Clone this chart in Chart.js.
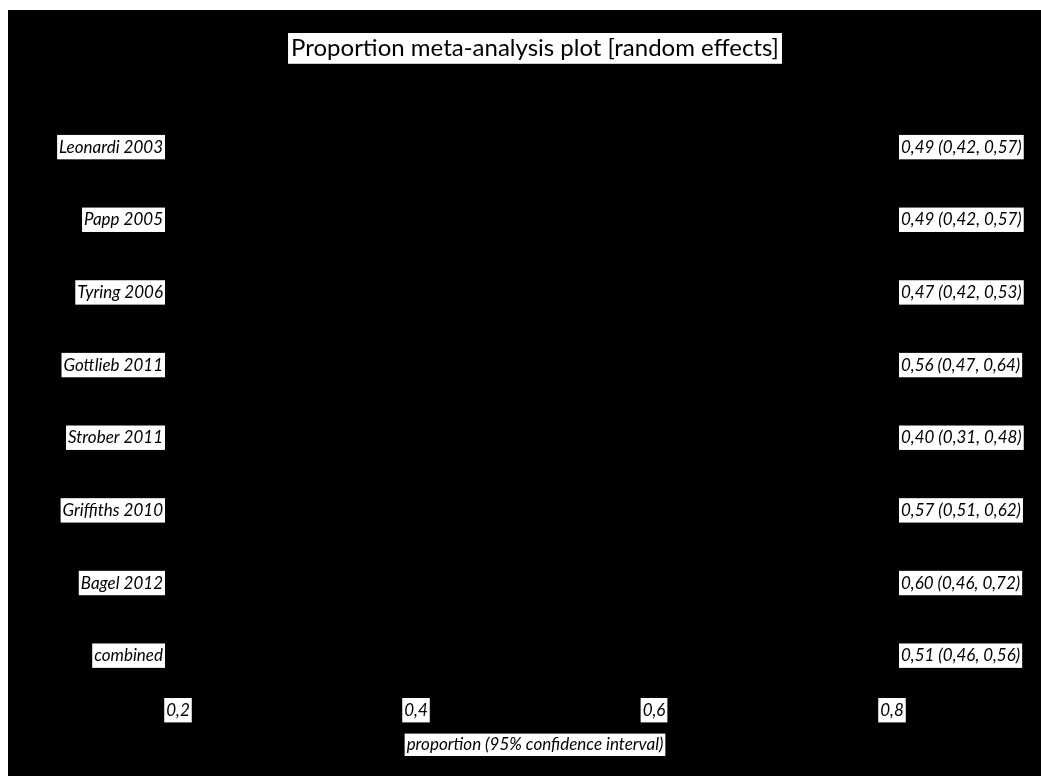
<!DOCTYPE html>
<html>
<head>
<meta charset="utf-8">
<script src="https://cdn.jsdelivr.net/npm/chart.js@4/dist/chart.umd.min.js"></script>
<style>
  html, body { margin: 0; padding: 0; background: #ffffff; }
  #wrap { position: absolute; left: 8px; top: 10px; width: 1033px; height: 766px; background: #000000; }
</style>
</head>
<body>
<div id="wrap"><canvas id="graph" width="1033" height="766"></canvas></div>
<script>
// study data
var studies = ["Leonardi 2003", "Papp 2005", "Tyring 2006", "Gottlieb 2011", "Strober 2011", "Griffiths 2010", "Bagel 2012", "combined"];
var proportion = [0.49, 0.49, 0.47, 0.56, 0.40, 0.57, 0.60, 0.51];
var lower = [0.42, 0.42, 0.42, 0.47, 0.31, 0.51, 0.46, 0.46];
var upper = [0.57, 0.57, 0.53, 0.64, 0.48, 0.62, 0.72, 0.56];
var tickValues = [0.2, 0.4, 0.6, 0.8];
var tickLabels = ["0,2", "0,4", "0,6", "0,8"];

function fmt(v) {
  return v.toFixed(2).replace(".", ",");
}

var ciLabels = [];
for (var i = 0; i < studies.length; i++) {
  ciLabels.push(fmt(proportion[i]) + " (" + fmt(lower[i]) + ", " + fmt(upper[i]) + ")");
}

var ranges = [];
var points = [];
for (var j = 0; j < studies.length; j++) {
  ranges.push([lower[j], upper[j]]);
  points.push({ x: proportion[j], y: studies[j] });
}

var labelFont = { family: "Lato", size: 17, style: "italic" };

// black background plus white boxes behind title and axis title
var boxes = {
  id: "boxes",
  beforeDraw: function(chart) {
    var ctx = chart.ctx;
    ctx.save();
    ctx.fillStyle = "#000000";
    ctx.fillRect(0, 0, chart.width, chart.height);
    ctx.fillStyle = "#ffffff";

    var t = chart.titleBlock;
    var tOpts = chart.options.plugins.title;
    var tFont = Chart.helpers.toFont(tOpts.font);
    ctx.font = tFont.string;
    var tw = ctx.measureText(tOpts.text).width;
    var tPad = Chart.helpers.toPadding(tOpts.padding);
    var tcx = (t.left + t.right) / 2;
    var tcy = t.top + tPad.top + tFont.lineHeight / 2;
    ctx.fillRect(tcx - tw / 2 - 3, tcy - tFont.lineHeight / 2 - 1, tw + 6, tFont.lineHeight + 2);

    var xs = chart.scales.x;
    var xt = xs.options.title;
    var xFont = Chart.helpers.toFont(xt.font);
    ctx.font = xFont.string;
    var xw = ctx.measureText(xt.text).width;
    var xPad = Chart.helpers.toPadding(xt.padding);
    var xcy = xs.bottom - xFont.lineHeight / 2 - xPad.bottom;
    var xcx = (xs.left + xs.right) / 2;
    ctx.fillRect(xcx - xw / 2 - 2, xcy - xFont.lineHeight / 2 - 1, xw + 4, xFont.lineHeight + 2);
    ctx.restore();
  }
};

var graph = document.getElementById("graph");
var myChart = new Chart(graph, {
  type: "bar",
  data: {
    labels: studies,
    datasets: [{
      label: "95% CI",
      data: ranges,
      backgroundColor: "#000000",
      borderWidth: 0,
      barThickness: 2
    }, {
      type: "line",
      label: "proportion",
      data: points,
      showLine: false,
      pointRadius: 5,
      pointStyle: "rect",
      pointBackgroundColor: "#000000",
      pointBorderColor: "#000000"
    }]
  },
  options: {
    indexAxis: "y",
    responsive: false,
    animation: false,
    layout: { padding: 0 },
    plugins: {
      legend: { display: false },
      tooltip: { enabled: false },
      title: {
        display: true,
        fullSize: false,
        text: "Proportion meta-analysis plot [random effects]",
        color: "#000000",
        font: { family: "Lato", size: 24, weight: "normal" },
        padding: { top: 24, bottom: 48 }
      }
    },
    scales: {
      x: {
        type: "linear",
        min: 0.2,
        max: 0.8,
        afterBuildTicks: function(scale) {
          scale.ticks = tickValues.map(function(v) { return { value: v }; });
        },
        afterFit: function(scale) { scale.height = 84; },
        grid: { display: false, drawTicks: false },
        border: { display: false },
        ticks: {
          color: "#000000",
          font: labelFont,
          padding: 8,
          maxRotation: 0,
          showLabelBackdrop: true,
          backdropColor: "#ffffff",
          backdropPadding: 2,
          callback: function(value, index) { return tickLabels[index]; }
        },
        title: {
          display: true,
          text: "proportion (95% confidence interval)",
          color: "#000000",
          font: { family: "Lato", size: 17, style: "italic" },
          padding: { top: 0, bottom: 21 }
        }
      },
      y: {
        type: "category",
        position: "left",
        afterFit: function(scale) { scale.width = 170; },
        grid: { display: false, drawTicks: false },
        border: { display: false },
        ticks: {
          color: "#000000",
          font: labelFont,
          padding: 15,
          showLabelBackdrop: true,
          backdropColor: "#ffffff",
          backdropPadding: 2
        }
      },
      y2: {
        type: "category",
        position: "right",
        labels: ciLabels,
        afterFit: function(scale) { scale.width = 149; },
        grid: { display: false, drawTicks: false },
        border: { display: false },
        ticks: {
          color: "#000000",
          font: labelFont,
          padding: 9,
          showLabelBackdrop: true,
          backdropColor: "#ffffff",
          backdropPadding: 2
        }
      }
    }
  },
  plugins: [boxes]
});
</script>
</body>
</html>
